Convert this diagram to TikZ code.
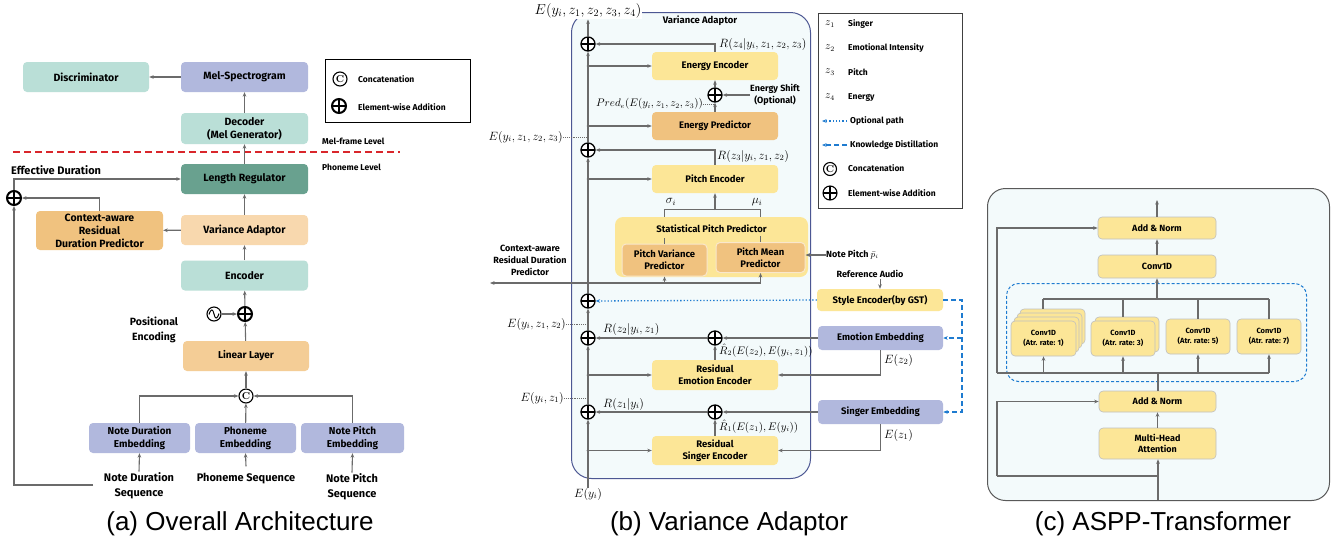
\documentclass[tikz,border=0pt]{standalone}
\usepackage{fontspec}
\setsansfont{Fira Sans}
\newfontfamily\capfont{Liberation Sans}
\usetikzlibrary{arrows.meta,calc}
\definecolor{tealA}{HTML}{BADFD7}
\definecolor{lav}{HTML}{B1B8DD}
\definecolor{dteal}{HTML}{69A18F}
\definecolor{orng}{HTML}{F0C27F}
\definecolor{peach}{HTML}{F8D8AE}
\definecolor{lin}{HTML}{F4CD96}
\definecolor{yel}{HTML}{FCE697}
\definecolor{panel}{HTML}{F3FAFB}
\definecolor{navy}{HTML}{4C5793}
\definecolor{gline}{HTML}{6B6B6B}
\definecolor{blu}{HTML}{1E7BD0}
\definecolor{redd}{HTML}{D9262B}
\newcommand\fA{\sffamily\bfseries\fontsize{10.5}{13}\selectfont}
\newcommand\fAs{\sffamily\bfseries\fontsize{10}{13}\selectfont}
\newcommand\fB{\sffamily\bfseries\fontsize{9.5}{12}\selectfont}
\newcommand\fBs{\sffamily\bfseries\fontsize{9}{12}\selectfont}
\newcommand\fL{\sffamily\bfseries\fontsize{8.5}{10}\selectfont}
\newcommand\fC{\sffamily\bfseries\fontsize{9}{11.5}\selectfont}
\newcommand\fD{\sffamily\bfseries\fontsize{7.5}{10}\selectfont}
\newcommand\fM{\fontsize{12}{14}\selectfont}
\newcommand\fMs{\fontsize{10.5}{12}\selectfont}
\newcommand\fCap{\capfont\fontsize{26}{29}\selectfont}
\begin{document}
\begin{tikzpicture}[x=1pt,y=-1pt,
  >={Stealth[length=4.5pt,width=3.6pt]},
  bx/.style={rectangle,rounded corners=4pt,inner sep=1pt,align=center},
  ln/.style={draw=gline,line width=1.1pt},
  lbl/.style={inner sep=0pt,align=center},
  oplus/.style={circle,draw=black,line width=1.3pt,minimum size=14pt,inner sep=0pt,fill=white,
    path picture={\draw[line width=1.3pt] (path picture bounding box.north)--(path picture bounding box.south)
    (path picture bounding box.west)--(path picture bounding box.east);}},
  oplusb/.style={oplus,line width=2pt},
  ocat/.style={circle,draw=black,line width=1.1pt,minimum size=14pt,inner sep=0pt,fill=white,font=\rmfamily\bfseries\fontsize{10}{10}\selectfont},
  jd/.style={circle,fill=gline,inner sep=0pt,minimum size=3pt},
]
\useasboundingbox (0,0) rectangle (1340,547);
\fill[white] (0,0) rectangle (1340,547);

%%%%%%%%%%%%%%%% (a) %%%%%%%%%%%%%%%%
\node[bx,fill=tealA,minimum width=126,minimum height=30,font=\fA] (disc) at (86,77) {Discriminator};
\node[bx,fill=lav,minimum width=127,minimum height=30,font=\fA] (mel) at (244.5,77) {Mel-Spectrogram};
\node[bx,fill=tealA,minimum width=127,minimum height=31,font=\fA] (dec) at (244.5,128.5) {Decoder\\(Mel Generator)};
\node[bx,fill=dteal,minimum width=127,minimum height=30,font=\fA] (lr) at (244.5,179) {Length Regulator};
\node[bx,fill=peach,minimum width=127,minimum height=30,font=\fA] (va) at (244.5,230) {Variance Adaptor};
\node[bx,fill=orng,minimum width=127,minimum height=39,font=\fA] (cardp) at (99.5,230.5) {Context-aware\\Residual\\Duration Predictor};
\node[bx,fill=tealA,minimum width=127,minimum height=30,font=\fA] (enc) at (244.5,275.5) {Encoder};
\node[bx,fill=lin,minimum width=126,minimum height=30,font=\fAs] (linl) at (246,356) {Linear Layer};
\node[bx,fill=lav,minimum width=101,minimum height=30,font=\fAs] (nde) at (139.5,438) {Note Duration\\Embedding};
\node[bx,fill=lav,minimum width=101,minimum height=30,font=\fAs] (pe) at (245.5,438) {Phoneme\\Embedding};
\node[bx,fill=lav,minimum width=103,minimum height=30,font=\fAs] (npe) at (352.5,438) {Note Pitch\\Embedding};
\node[lbl,font=\sffamily\bfseries\fontsize{11}{15}\selectfont] (ndseq) at (139,486) {Note Duration\\Sequence};
\node[lbl,font=\sffamily\bfseries\fontsize{11}{15}\selectfont] (pseq) at (246,479) {Phoneme Sequence};
\node[lbl,font=\sffamily\bfseries\fontsize{11}{15}\selectfont] (npseq) at (352,487) {Note Pitch\\Sequence};
\node[ocat] (cc) at (246,396) {C};
\node[oplusb] (pep) at (245,314) {};
\node[circle,draw=black,line width=1.1pt,minimum size=14pt,inner sep=0pt] (sine) at (214,314) {};
\draw[line width=1pt] ($(sine.center)+(-5,0.5)$) .. controls ($(sine.center)+(-3,-6)$) and ($(sine.center)+(-1,-5)$) .. (sine.center) .. controls ($(sine.center)+(1,5)$) and ($(sine.center)+(3,6)$) .. ($(sine.center)+(5,-0.5)$);
\node[lbl,font=\sffamily\bfseries\fontsize{10.5}{15}\selectfont] (pos) at (154,330) {Positional\\Encoding};
\node[oplusb] (pA) at (14,198) {};
\node[lbl,font=\sffamily\bfseries\fontsize{11}{13}\selectfont,anchor=west] (effd) at (11,170) {Effective Duration};
\node[lbl,font=\fL,anchor=west] (mfl) at (322,141) {Mel-frame Level};
\node[lbl,font=\fL,anchor=west] (phl) at (322,167) {Phoneme Level};
\coordinate (rd1) at (13,152);
\coordinate (rd2) at (400,152);
\draw[redd,line width=2pt,dash pattern=on 7pt off 4pt] (rd1) -- (rd2);
% legend (a)
\node[draw=black,line width=1pt,minimum width=145,minimum height=63,anchor=north west,inner sep=0] (lega) at (325,59) {};
\node[ocat] (lac) at (340,79) {C};
\node[oplusb] (lap) at (339,106) {};
\node[lbl,font=\fL,anchor=west] (lact) at (358,79) {Concatenation};
\node[lbl,font=\fL,anchor=west] (lapt) at (358,107) {Element-wise Addition};
% connectors (a)
\draw[ln,->] (mel) -- (disc);
\draw[ln,->] (dec) -- (mel);
\draw[ln,->] (lr) -- (dec);
\draw[ln,->] (va) -- (lr);
\draw[ln,->] (va) -- (cardp);
\draw[ln,->] (cardp.north) |- (pA);
\draw[ln,->] (pA) |- (lr);
\coordinate (fb) at (93,485);
\draw[ln,->] (fb) -| (pA);
\draw[ln,->] (enc) -- (va);
\draw[ln,->] (pep) -- (enc);
\draw[ln,->] (sine) -- (pep);
\draw[ln,->] (linl) -- (pep);
\draw[ln,->] (cc) -- (linl);
\draw[ln,->] (nde.north) |- (cc);
\draw[ln,->] (npe.north) |- (cc);
\draw[ln,->] (pe) -- (cc);
\draw[ln,->] (ndseq.north) ++(0,-1) -- (nde.south);
\draw[ln,->] (pseq.north) ++(0,-7) -- (pe.south);
\draw[ln,->] (npseq.north) ++(0,-1) -- (npe.south);

%%%%%%%%%%%%%%%% (b) %%%%%%%%%%%%%%%%
\node[draw=navy,fill=panel,line width=1pt,rounded corners=20pt,minimum width=239,minimum height=466,anchor=north west,inner sep=0] (vabox) at (571,12) {};
\node[lbl,font=\fB] (vatitle) at (700,21) {Variance Adaptor};
\node[lbl,fill=white,inner sep=1pt,font=\fontsize{14}{16}\selectfont] (etop) at (588,11) {$E(y_i,z_1,z_2,z_3,z_4)$};
\node[bx,fill=yel,minimum width=126,minimum height=28,font=\fB] (ee) at (715,66) {Energy Encoder};
\node[bx,fill=orng,minimum width=126,minimum height=28,font=\fB] (ep) at (715,126) {Energy Predictor};
\node[bx,fill=yel,minimum width=126,minimum height=28,font=\fB] (pce) at (715,179) {Pitch Encoder};
\node[bx,fill=yel,rounded corners=8pt,minimum width=193,minimum height=60] (spp) at (711.5,247) {};
\node[lbl,font=\fB] (sppt) at (711.5,229) {Statistical Pitch Predictor};
\node[bx,fill=orng,draw=white!60!orng,line width=1pt,minimum width=85,minimum height=32,font=\fB] (pvp) at (664.5,260) {Pitch Variance\\Predictor};
\node[bx,fill=orng,draw=white!60!orng,line width=1pt,minimum width=89,minimum height=30,font=\fB] (pmp) at (760.5,257.5) {Pitch Mean\\Predictor};
\node[bx,fill=yel,minimum width=126,minimum height=30,font=\fB] (ree) at (715,375) {Residual\\Emotion Encoder};
\node[bx,fill=yel,minimum width=126,minimum height=29,font=\fB] (rse) at (715,450.5) {Residual\\Singer Encoder};
\node[oplus] (pE4) at (588,44) {};
\node[oplus] (pE3) at (588,150) {};
\node[oplus] (pSt) at (588,301) {};
\node[oplus] (pE2) at (588,338) {};
\node[oplus] (pE1) at (588,412) {};
\node[oplus] (pSh) at (715,95) {};
\node[oplus] (pR2) at (715,338) {};
\node[oplus] (pR1) at (715,412) {};
\node[lbl,font=\fM] (ey) at (588,494) {$E(y_i)$};
% main line
\draw[ln,->] (ey) -- (pE1);
\draw[ln,->] (pE1) -- (pE2);
\draw[ln,->] (pE2) -- (pSt);
\draw[ln,->] (pSt) -- (pE3);
\draw[ln,->] (pE3) -- (pE4);
\draw[ln,->] (pE4) -- (etop);
% branches
\coordinate (b1) at (588,66);
\coordinate (b2) at (588,126);
\coordinate (b3) at (588,179);
\coordinate (b4) at (588,375);
\coordinate (b5) at (588,450.5);
\draw[ln,->] (b1) -- (ee);
\draw[ln,->] (b2) -- (ep);
\draw[ln,->] (b3) -- (pce);
\draw[ln,->] (b4) -- (ree);
\draw[ln,->] (b5) -- (rse);
\foreach \b in {b1,b2,b3,b4,b5} \node[jd] at (\b) {};
\draw[ln,->] (ee.north) |- (pE4);
\draw[ln,->] (ep) -- (pSh);
\draw[ln,->] (pSh) -- (ee);
\draw[ln,->] (pce.north) |- (pE3);
\node[lbl,font=\fM,anchor=west] (rz4) at (719,44) {$R(z_4|y_i,z_1,z_2,z_3)$};
\node[lbl,font=\fBs] (eshift) at (775,95) {Energy Shift\\(Optional)};
\draw[ln,->] (eshift.west) -- (pSh);
\node[lbl,font=\fMs,anchor=east] (prede) at (703,104) {$Pred_e(E(y_i,z_1,z_2,z_3))$};
\draw[gline,line width=0.9pt,densely dotted] (prede.east) -- (prede.east -| pSh);
\node[lbl,font=\fM,anchor=east] (e3) at (563,137) {$E(y_i,z_1,z_2,z_3)$};
\draw[gline,line width=0.9pt,densely dotted] (e3.east) -- (e3.east -| pE3);
\node[lbl,font=\fM,anchor=west] (rz3) at (717,156) {$R(z_3|y_i,z_1,z_2)$};
% pitch
\coordinate (br) at (715,210);
\draw[ln,->] (br) -- (pce.south);
\draw[ln] (spp.north -| pvp) -- ++(0,-7) -| (spp.north -| pmp);
\node[lbl,font=\fM] (sig) at (671,202) {$\sigma_i$};
\node[lbl,font=\fM] (mu) at (757,202) {$\mu_i$};
\draw[ln] (pvp.north) -- ++(0,-6);
\draw[ln] (pmp.north) -- ++(0,-6);
\node[lbl,font=\fBs,anchor=west] (np) at (826,255) {Note Pitch $\bar{p}_i$};
\draw[ln,->] (np.west) -- (np.west -| pmp.east);
\coordinate (h283) at (588,283);
\coordinate (cardl) at (490,283);
\draw[ln,->] (h283) -- (cardl);
\draw[ln,->] (h283) -| (pvp.south);
\draw[ln,->] (h283) -| (pmp.south);
\node[lbl,font=\fBs] (cardtxt) at (530,260) {Context-aware\\Residual Duration\\Predictor};
% style / emotion / singer
\node[bx,fill=yel,minimum width=126,minimum height=22,font=\fB] (se) at (880,300) {Style Encoder(by GST)};
\node[bx,fill=lav,minimum width=125,minimum height=24,font=\fB] (emo) at (880.5,338) {Emotion Embedding};
\node[bx,fill=lav,minimum width=125,minimum height=24,font=\fB] (sing) at (880.5,412) {Singer Embedding};
\node[lbl,font=\fBs] (ra) at (870,274) {Reference Audio};
\draw[ln,->,line width=0.8pt] (ra.south -| se) ++(0,1.5) -- (se.north);
\draw[blu,line width=1.3pt,dotted,->] (se.west) -- (pSt);
\node[lbl,font=\fM,anchor=east] (e2) at (566,324) {$E(y_i,z_1,z_2)$};
\draw[gline,line width=0.9pt,densely dotted] (e2.east) -- (e2.east -| pE2);
\node[lbl,font=\fM,anchor=west] (rz2) at (603,329) {$R(z_2|y_i,z_1)$};
\draw[ln,->] (emo) -- (pR2);
\draw[ln,->] (pR2) -- (pE2);
\draw[ln,->] (ree) -- (pR2);
\node[lbl,font=\fMs,anchor=west] (rh2) at (719,350.5) {$\hat{R}_2(E(z_2),E(y_i,z_1))$};
\draw[ln,->] (emo.south) |- (ree.east);
\node[lbl,font=\fM,anchor=west] (ez2) at (884,360) {$E(z_2)$};
\node[lbl,font=\fM,anchor=east] (e1) at (564,398) {$E(y_i,z_1)$};
\draw[gline,line width=0.9pt,densely dotted] (e1.east) -- (e1.east -| pE1);
\node[lbl,font=\fM,anchor=west] (rz1) at (603,404) {$R(z_1|y_i)$};
\draw[ln,->] (sing) -- (pR1);
\draw[ln,->] (pR1) -- (pE1);
\draw[ln,->] (rse) -- (pR1);
\node[lbl,font=\fMs,anchor=west] (rh1) at (719,426.5) {$\hat{R}_1(E(z_1),E(y_i))$};
\draw[ln,->] (sing.south) |- (rse.east);
\node[lbl,font=\fM,anchor=west] (ez1) at (884,435) {$E(z_1)$};
\coordinate (kdx) at (962,300);
\draw[blu,line width=1.3pt,dash pattern=on 5pt off 3pt,->] (se.east) -- (kdx) |- (sing.east);
\draw[blu,line width=1.3pt,dash pattern=on 5pt off 3pt,->] (emo.east -| kdx) -- (emo.east);
% legend (b)
\node[draw=black!75,line width=0.8pt,minimum width=144,minimum height=195,anchor=north west,inner sep=0] (legb) at (818,13) {};
\node[lbl,font=\fMs] (lz1) at (830,24) {$z_1$};
\node[lbl,font=\fMs] (lz2) at (830,48) {$z_2$};
\node[lbl,font=\fMs] (lz3) at (830,72) {$z_3$};
\node[lbl,font=\fMs] (lz4) at (830,97) {$z_4$};
\node[lbl,font=\fL,anchor=west] (lt1) at (848,24) {Singer};
\node[lbl,font=\fL,anchor=west] (lt2) at (848,48) {Emotional Intensity};
\node[lbl,font=\fL,anchor=west] (lt3) at (848,72) {Pitch};
\node[lbl,font=\fL,anchor=west] (lt4) at (848,97) {Energy};
\coordinate (op1) at (847,121);
\coordinate (op2) at (822,121);
\draw[blu,line width=1.3pt,dotted,->] (op1) -- (op2);
\node[lbl,font=\fL,anchor=west] (lt5) at (850,121) {Optional path};
\coordinate (kd1) at (847,145);
\coordinate (kd2) at (822,145);
\draw[blu,line width=1.3pt,dash pattern=on 5pt off 3pt,->] (kd1) -- (kd2);
\node[lbl,font=\fL,anchor=west] (lt6) at (850,145) {Knowledge Distillation};
\node[ocat,minimum size=13pt] (lbc) at (830,169) {C};
\node[oplus,line width=1.1pt] (lbp) at (830,193) {};
\node[lbl,font=\fL,anchor=west] (lt7) at (848,168) {Concatenation};
\node[lbl,font=\fL,anchor=west] (lt8) at (848,193) {Element-wise Addition};

%%%%%%%%%%%%%%%% (c) %%%%%%%%%%%%%%%%
\node[draw=black!65,fill=panel,line width=1pt,rounded corners=18pt,minimum width=342,minimum height=312,anchor=north west,inner sep=0] (cbox) at (987,188) {};
\node[draw=blu,line width=1pt,dash pattern=on 3pt off 2pt,rounded corners=12pt,minimum width=300,minimum height=98,anchor=north west,inner sep=0] (dbox) at (1006,283) {};
\tikzset{cb/.style={bx,fill=yel,draw=black!25,line width=0.6pt,rounded corners=4pt}}
\node[cb,minimum width=118,minimum height=22,font=\fC] (an2) at (1157,228) {Add \& Norm};
\node[cb,minimum width=118,minimum height=23,font=\fC] (conv) at (1157,266.5) {Conv1D};
\node[cb,minimum width=65,minimum height=35] (c1c) at (1052.5,326.5) {};
\node[cb,minimum width=65,minimum height=35] (c1b) at (1049.5,330.5) {};
\node[cb,minimum width=65,minimum height=35] (c1a) at (1046.5,334.5) {};
\node[cb,minimum width=65,minimum height=35,font=\fD] (c1) at (1043.5,338.5) {Conv1D\\(Atr. rate: 1)};
\node[cb,minimum width=64,minimum height=35] (c3a) at (1127,334.5) {};
\node[cb,minimum width=64,minimum height=35,font=\fD] (c3) at (1123,338.5) {Conv1D\\(Atr. rate: 3)};
\node[cb,minimum width=64,minimum height=35,font=\fD] (c5) at (1198,336.5) {Conv1D\\(Atr. rate: 5)};
\node[cb,minimum width=64,minimum height=35,font=\fD] (c7) at (1269,336.5) {Conv1D\\(Atr. rate: 7)};
\node[cb,minimum width=117,minimum height=21,font=\fC] (an1) at (1157.5,401.5) {Add \& Norm};
\node[cb,minimum width=117,minimum height=31,font=\fC] (mha) at (1157.5,443.5) {Multi-Head\\Attention};
\coordinate (ctop) at (1157,200);
\coordinate (cin) at (1158,500);
\coordinate (tl) at (1043,299);
\coordinate (tr) at (1269,299);
\coordinate (bl) at (997,373);
\coordinate (bm) at (1158,373);
\coordinate (rl) at (997,476);
\coordinate (rm) at (1158,476);
\draw[ln,->] (an2) -- (ctop);
\draw[ln,->] (conv) -- (an2);
\draw[ln] (tl) -- (tr);
\draw[ln,->] (tl -| conv) -- (conv);
\draw[ln] (tl) -- (c1c.north -| tl);
\draw[ln] (tl -| c3) -- (c3a.north -| c3);
\draw[ln] (tl -| c5) -- (c5.north);
\draw[ln] (tr) -- (c7.north);
\draw[ln] (bl) -- (bl -| c7);
\draw[ln,->] (bl -| c1) -- (c1.south);
\draw[ln,->] (bl -| c3) -- (c3.south);
\draw[ln,->] (bl -| c5) -- (c5.south);
\draw[ln,->] (bl -| c7) -- (c7.south);
\draw[ln] (an1.north -| bm) -- (bm);
\draw[ln,->] (bl) |- (an2.west);
\draw[ln,->] (mha) -- (an1);
\draw[ln,->] (cin) -- (mha.south -| cin);
\draw[ln] (rm) -- (rl);
\draw[ln,->] (rl) |- (an1.west);

%%%%%%%%%%%%%%%% captions %%%%%%%%%%%%%%%%
\node[lbl,font=\fCap] (capa) at (240,524) {(a) Overall Architecture};
\node[lbl,font=\fCap] (capb) at (729,524) {(b) Variance Adaptor};
\node[lbl,font=\fCap] (capc) at (1163,524) {(c) ASPP-Transformer};
\end{tikzpicture}
\end{document}
